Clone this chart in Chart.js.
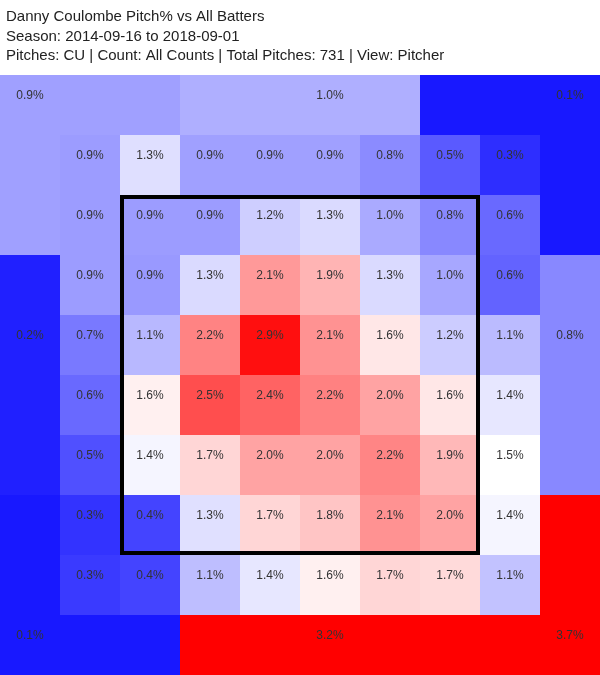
<!DOCTYPE html>
<html>
<head>
<meta charset="utf-8">
<script src="https://cdn.jsdelivr.net/npm/chart.js@4.4.1/dist/chart.umd.min.js"></script>
<style>
    html, body { margin: 0; padding: 0; background: #fff; }
    #wrap { width: 600px; height: 675px; position: relative; }
</style>
</head>
<body>
<div id="wrap"><canvas id="zoneChart"></canvas></div>
<script>
// Title lines
const titleLines = [
    'Danny Coulombe Pitch% vs All Batters',
    'Season: 2014-09-16 to 2018-09-01',
    'Pitches: CU | Count: All Counts | Total Pitches: 731 | View: Pitcher'
];

// Inner 8x8 grid, top row first (pitch %)
const row1 = [0.92, 1.31, 0.94, 0.94, 0.94, 0.82, 0.53, 0.27];
const row2 = [0.92, 0.92, 0.92, 1.21, 1.28, 1.00, 0.80, 0.62];
const row3 = [0.92, 0.90, 1.28, 2.10, 1.94, 1.28, 0.98, 0.58];
const row4 = [0.71, 1.08, 2.23, 2.91, 2.14, 1.64, 1.20, 1.10];
const row5 = [0.62, 1.59, 2.54, 2.42, 2.24, 2.04, 1.64, 1.36];
const row6 = [0.47, 1.44, 1.74, 2.04, 2.04, 2.22, 1.92, 1.50];
const row7 = [0.30, 0.40, 1.32, 1.74, 1.84, 2.14, 2.04, 1.44];
const row8 = [0.34, 0.40, 1.12, 1.36, 1.59, 1.74, 1.72, 1.14];
const innerRows = [row1, row2, row3, row4, row5, row6, row7, row8];

// Outer (out of zone) regions
const outerNames = ['top-left', 'top', 'top-right', 'left', 'right', 'bottom-left', 'bottom', 'bottom-right'];
const outerPct = [0.94, 1.03, 0.14, 0.19, 0.80, 0.14, 3.20, 3.70];

// geometry of the outer regions on the 10x10 grid: rects [x, y, w, h] and label cell
const outerShapes = {
    'top-left':     { rects: [[0, 0, 3, 1], [0, 1, 1, 2]], label: [0, 0] },
    'top':          { rects: [[3, 0, 4, 1]], label: [5, 0] },
    'top-right':    { rects: [[7, 0, 3, 1], [9, 1, 1, 2]], label: [9, 0] },
    'left':         { rects: [[0, 3, 1, 4]], label: [0, 4] },
    'right':        { rects: [[9, 3, 1, 4]], label: [9, 4] },
    'bottom-left':  { rects: [[0, 7, 1, 2], [0, 9, 3, 1]], label: [0, 9] },
    'bottom':       { rects: [[3, 9, 4, 1]], label: [5, 9] },
    'bottom-right': { rects: [[9, 7, 1, 2], [7, 9, 3, 1]], label: [9, 9] }
};

// blue -> white (1.5%) -> red
const colorFor = (v) => {
    if (v <= 1.5) {
        const c = Math.round(255 * Math.max(0, v) / 1.5);
        return `rgb(${c},${c},255)`;
    }
    const c = Math.round(255 * Math.max(0, 1 - (v - 1.5) / 1.5));
    return `rgb(255,${c},${c})`;
};

// flatten into cells for drawing
const cells = [];
innerRows.forEach((row, r) => {
    row.forEach((v, c) => {
        cells.push({ rects: [[c + 1, r + 1, 1, 1]], label: [c + 1, r + 1], v: v });
    });
});
outerNames.forEach((name, i) => {
    cells.push({ rects: outerShapes[name].rects, label: outerShapes[name].label, v: outerPct[i] });
});

const heatmapPlugin = {
    id: 'heatmap',
    beforeDatasetsDraw(chart) {
        const { ctx, scales: { x, y } } = chart;
        ctx.save();
        cells.forEach(cell => {
            ctx.fillStyle = colorFor(cell.v);
            cell.rects.forEach(([rx, ry, w, h]) => {
                const x0 = Math.round(x.getPixelForValue(rx));
                const x1 = Math.round(x.getPixelForValue(rx + w));
                const y0 = Math.round(y.getPixelForValue(ry));
                const y1 = Math.round(y.getPixelForValue(ry + h));
                ctx.fillRect(x0, y0, x1 - x0, y1 - y0);
            });
        });

        // labels sit in the upper part of their cell
        ctx.fillStyle = '#333';
        ctx.font = '12px "Liberation Sans", Arial, sans-serif';
        ctx.textAlign = 'center';
        ctx.textBaseline = 'middle';
        cells.forEach(cell => {
            const [lx, ly] = cell.label;
            const cx = x.getPixelForValue(lx + 0.5);
            const cy = y.getPixelForValue(ly + 0.35);
            ctx.fillText(cell.v.toFixed(1) + '%', cx, cy);
        });

        // strike zone
        const sx0 = x.getPixelForValue(2), sx1 = x.getPixelForValue(8);
        const sy0 = y.getPixelForValue(2), sy1 = y.getPixelForValue(8);
        ctx.strokeStyle = '#000';
        ctx.lineWidth = 4;
        ctx.strokeRect(sx0 + 2, sy0 + 2, sx1 - sx0 - 4, sy1 - sy0 - 4);
        ctx.restore();
    },
    afterDraw(chart) {
        const { ctx } = chart;
        ctx.save();
        ctx.fillStyle = '#222';
        ctx.font = '15px "Liberation Sans", Arial, sans-serif';
        ctx.textAlign = 'left';
        ctx.textBaseline = 'alphabetic';
        titleLines.forEach((line, i) => {
            ctx.fillText(line, 6, 21 + i * 19.7);
        });
        ctx.restore();
    }
};

new Chart(document.getElementById('zoneChart'), {
    type: 'scatter',
    data: { datasets: [{ data: [] }] },
    options: {
        responsive: true,
        maintainAspectRatio: false,
        animation: false,
        layout: { padding: { top: 75, left: 0, right: 0, bottom: 0 } },
        plugins: {
            legend: { display: false },
            tooltip: { enabled: false },
            title: { display: false }
        },
        scales: {
            x: { type: 'linear', min: 0, max: 10, display: false },
            y: { type: 'linear', min: 0, max: 10, reverse: true, display: false }
        }
    },
    plugins: [heatmapPlugin]
});
</script>
</body>
</html>
